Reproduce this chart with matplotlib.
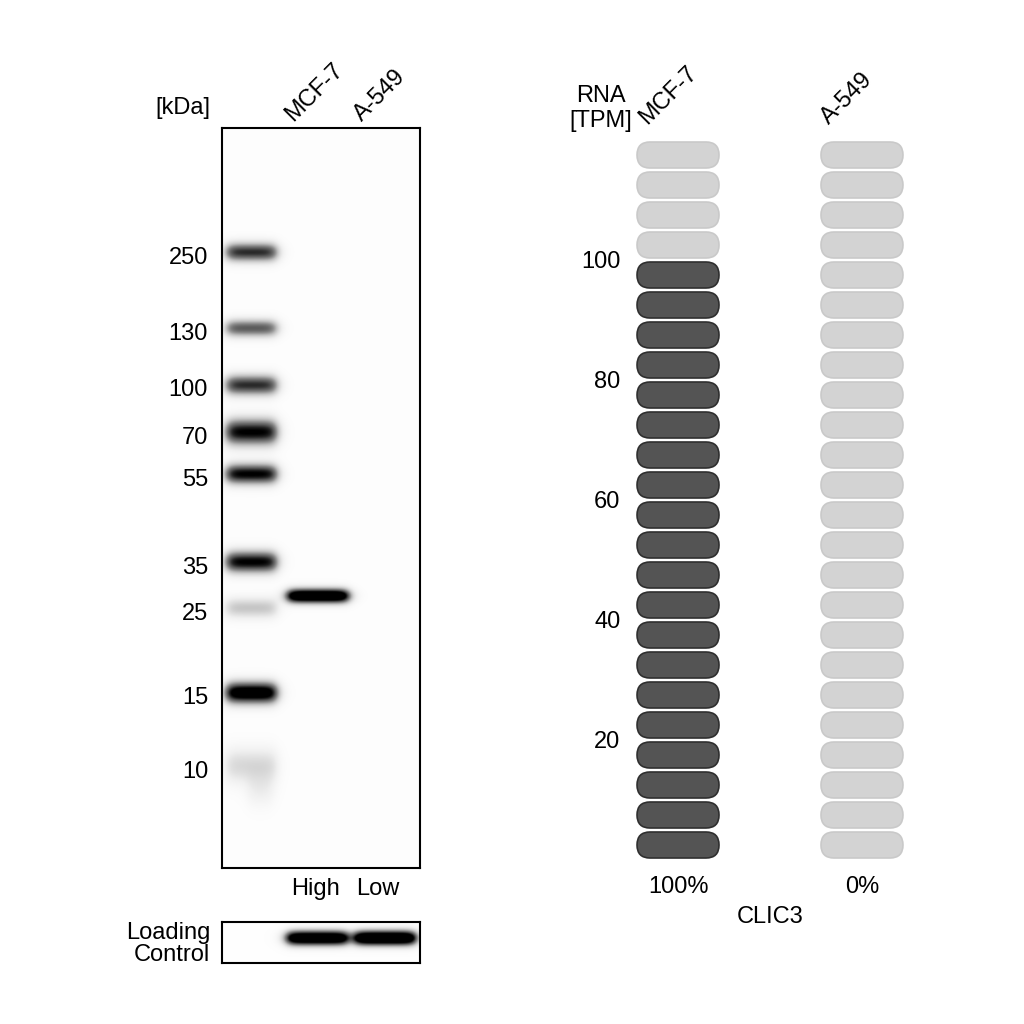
import numpy as np
import matplotlib.pyplot as plt
from matplotlib.patches import FancyBboxPatch

plt.rcParams['font.family'] = ['Liberation Sans', 'DejaVu Sans']
plt.rcParams['font.size'] = 17

# western blot data
lanes = ["MCF-7", "A-549"]
wb_levels = ["High", "Low"]
marker_kda = [250, 130, 100, 70, 55, 35, 25, 15, 10]
marker_pos = [124, 200, 257, 304, 346, 434, 480, 565, 638]   # migration from well
marker_strength = [0.85, 0.7, 0.85, 1.0, 1.0, 1.0, 0.32, 1.2, 0.24]
marker_sigma = [6.5, 6, 7, 9, 7, 7.5, 7, 7.5, 12]
sample_pos = [468, 468]
sample_strength = [1.4, 0.0]
loading_strength = [1.4, 1.5]

# RNA data
rna_tpm = [100, 0]
rna_pct = ["100%", "0%"]
gene = "CLIC3"
tpm_ticks = [20, 40, 60, 80, 100]
tpm_max = 120
tpm_step = 5


def band(X, Y, xc, half_w, yc, sig, s, edge=0.05):
    h = 1 / (1 + np.exp(-(X - (xc - half_w)) / edge)) * 1 / (1 + np.exp((X - (xc + half_w)) / edge))
    v = np.exp(-0.5 * ((Y - yc) / sig) ** 2)
    return s * h * v


fig = plt.figure(figsize=(10.24, 10.24), dpi=100)
W = H = 1024.0


def px_axes(left, top, right, bottom):
    return fig.add_axes([left / W, 1 - bottom / H, (right - left) / W, (bottom - top) / H])


# ---- blot ----
xlim = (-0.41, 2.5)
ax = px_axes(222, 128, 420, 868)
xs = np.linspace(*xlim, 300)
ys = np.linspace(0, 740, 1100)
X, Y = np.meshgrid(xs, ys)
img = np.full(X.shape, 0.015)
for pos, s, sg in zip(marker_pos, marker_strength, marker_sigma):
    img += band(X, Y, 0.02, 0.37, pos, sg, s)
# smear below the 10 kDa marker
img += band(X, Y, 0.15, 0.18, marker_pos[-1] + 24, 12, 0.12)
for i, (pos, s) in enumerate(zip(sample_pos, sample_strength)):
    img += band(X, Y, i + 1.0, 0.45, pos, 5.0, s)
img = np.clip(img, 0, 1)
ax.imshow(img, cmap='Greys', vmin=0, vmax=1, extent=(xlim[0], xlim[1], 740, 0),
          aspect='auto', interpolation='bilinear')
ax.set_xlim(*xlim)
ax.set_ylim(740, 0)
ax.set_xticks([])
ax.set_yticks([p + 3 for p in marker_pos], [str(k) for k in marker_kda])
ax.tick_params(axis='y', length=0, pad=10)
for sp in ax.spines.values():
    sp.set_linewidth(1.5)
for i, name in enumerate(lanes):
    ax.text(i + 0.64, -6, name, rotation=45, ha='left', va='baseline',
            rotation_mode='anchor', clip_on=False)
for x, lvl in zip([0.96, 1.88], wb_levels):
    ax.text(x, 761, lvl, ha='center', va='center', clip_on=False)
fig.text(210 / W, 1 - 108 / H, "[kDa]", ha='right', va='center')

# ---- loading control ----
lc = px_axes(222, 922, 420, 963)
ys2 = np.linspace(0, 41, 120)
X2, Y2 = np.meshgrid(xs, ys2)
img2 = np.full(X2.shape, 0.01)
for i, s in enumerate(loading_strength):
    img2 += band(X2, Y2, i + 0.99, 0.45, 16, 5.2, s)
img2 = np.clip(img2, 0, 1)
lc.imshow(img2, cmap='Greys', vmin=0, vmax=1, extent=(xlim[0], xlim[1], 41, 0),
          aspect='auto', interpolation='bilinear')
lc.set_xlim(*xlim)
lc.set_ylim(41, 0)
lc.set_xticks([])
lc.set_yticks([])
for sp in lc.spines.values():
    sp.set_linewidth(1.5)
fig.text(210 / W, 1 - 944 / H, "Loading\nControl", ha='right', va='center',
         linespacing=1.05)

# ---- RNA ----
rx = px_axes(630, 140, 910, 860)
rx.set_xlim(-0.261, 1.261)
rx.set_ylim(0, tpm_max)
pill_w = 82 / 184
pill_h = 26 / 6
aspect = (1 / 6) / (1 / 184)
n_pills = tpm_max // tpm_step
for j, tpm in enumerate(rna_tpm):
    for i in range(n_pills):
        yc = (i + 0.5) * tpm_step
        dark = (i + 1) * tpm_step <= tpm
        fc = '#545454' if dark else '#d3d3d3'
        ec = '#2f2f2f' if dark else '#c9c9c9'
        p = FancyBboxPatch((j - pill_w / 2, yc - pill_h / 2), pill_w, pill_h,
                           boxstyle=f"round,pad=0,rounding_size={pill_h / 2 / aspect}",
                           mutation_aspect=aspect, fc=fc, ec=ec, lw=1.2)
        rx.add_patch(p)
rx.set_xticks([])
rx.set_yticks(tpm_ticks, [str(t) for t in tpm_ticks])
rx.tick_params(axis='y', length=0, pad=7)
for sp in rx.spines.values():
    sp.set_visible(False)
label_x = [-0.17, 0.82]
for x, name in zip(label_x, lanes):
    rx.text(x, 122.5, name, rotation=45, ha='left', va='baseline',
            rotation_mode='anchor', clip_on=False)
for j, pct in enumerate(rna_pct):
    rx.text(j, -4.5, pct, ha='center', va='center', clip_on=False)
rx.text(0.5, -9.5, gene, ha='center', va='center', clip_on=False)
rx.text(-0.42, 125.2, "RNA\n[TPM]", ha='center', va='center', linespacing=1.2,
        clip_on=False)

fig.savefig("out.png", dpi=100)
